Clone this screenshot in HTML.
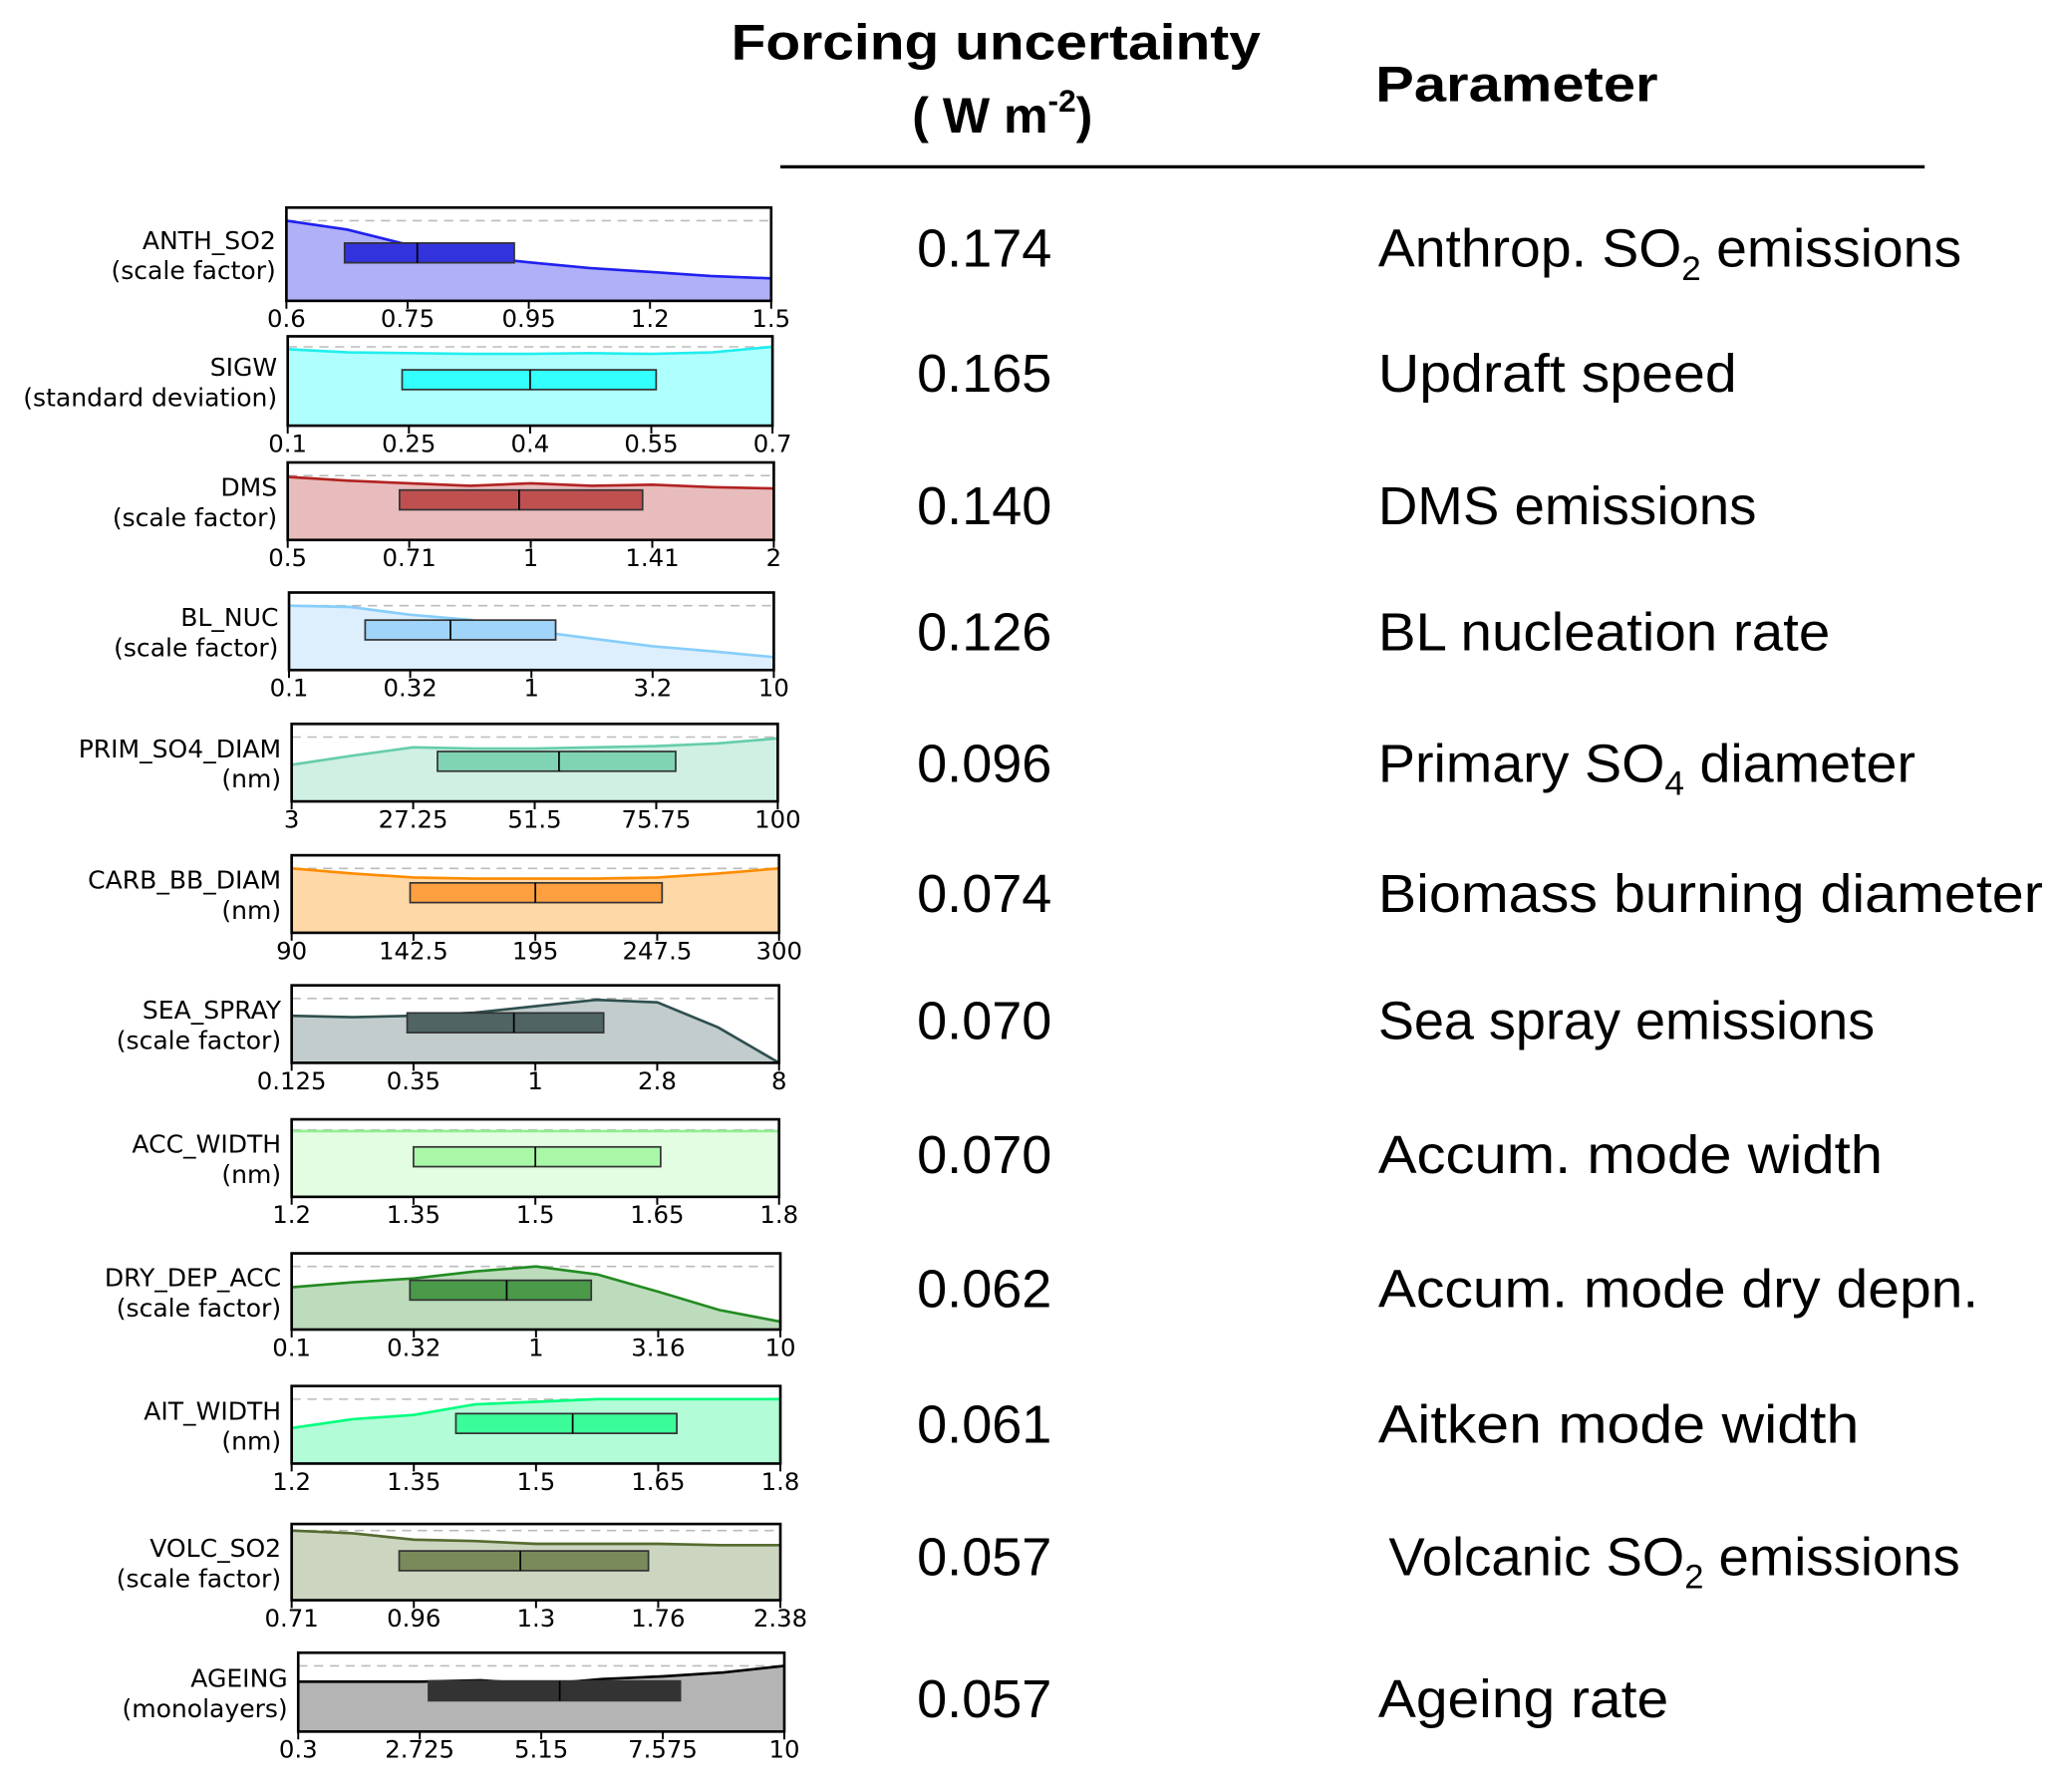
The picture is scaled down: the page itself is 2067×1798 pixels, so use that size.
<!DOCTYPE html>
<html><head><meta charset="utf-8"><style>
html,body{margin:0;padding:0;background:#fff;}
svg{display:block;}
.lab{font-family:"DejaVu Sans","Liberation Sans",sans-serif;font-size:19px;fill:#000;}
.tick{font-family:"DejaVu Sans","Liberation Sans",sans-serif;font-size:18.5px;fill:#000;}
.val{font-family:"Liberation Sans",sans-serif;font-size:41px;fill:#000;}
.hdr{font-family:"Liberation Sans",sans-serif;font-size:38px;font-weight:bold;fill:#000;}
</style></head><body>
<svg id="chart" width="2067" height="1798" viewBox="0 0 1568 1364" preserveAspectRatio="none" xmlns="http://www.w3.org/2000/svg">
<text class="hdr" x="758" y="45" text-anchor="middle" textLength="403" lengthAdjust="spacingAndGlyphs">Forcing uncertainty</text>
<text class="hdr" x="763" y="101" text-anchor="middle">( W m<tspan font-size="24" dy="-16">-2</tspan><tspan dy="16">)</tspan></text>
<text class="hdr" x="1047" y="77" textLength="215" lengthAdjust="spacingAndGlyphs">Parameter</text>
<line x1="594" y1="127" x2="1465" y2="127" stroke="#000" stroke-width="2.5"/>
<g id="panels"></g>
</svg>
<script>
const names=["ANTH_SO2","SIGW","DMS","BL_NUC","PRIM_SO4_DIAM","CARB_BB_DIAM","SEA_SPRAY","ACC_WIDTH","DRY_DEP_ACC","AIT_WIDTH","VOLC_SO2","AGEING"];
const units=["(scale factor)","(standard deviation)","(scale factor)","(scale factor)","(nm)","(nm)","(scale factor)","(nm)","(scale factor)","(nm)","(scale factor)","(monolayers)"];
const tickLabels=[["0.6","0.75","0.95","1.2","1.5"],["0.1","0.25","0.4","0.55","0.7"],["0.5","0.71","1","1.41","2"],["0.1","0.32","1","3.2","10"],["3","27.25","51.5","75.75","100"],["90","142.5","195","247.5","300"],["0.125","0.35","1","2.8","8"],["1.2","1.35","1.5","1.65","1.8"],["0.1","0.32","1","3.16","10"],["1.2","1.35","1.5","1.65","1.8"],["0.71","0.96","1.3","1.76","2.38"],["0.3","2.725","5.15","7.575","10"]];
const density=[[1.0,0.89,0.70,0.56,0.48,0.41,0.36,0.31,0.28],[0.97,0.93,0.92,0.91,0.91,0.92,0.91,0.93,1.0],[0.98,0.92,0.88,0.84,0.88,0.84,0.86,0.82,0.80],[1.0,0.98,0.86,0.78,0.61,0.49,0.37,0.29,0.2],[0.57,0.71,0.84,0.82,0.82,0.84,0.86,0.9,0.98],[1.0,0.92,0.86,0.84,0.84,0.84,0.86,0.92,1.0],[0.73,0.71,0.73,0.78,0.88,0.98,0.94,0.55,0],[0.98,0.98,0.98,0.98,0.98,0.98,0.98,0.98,0.98],[0.67,0.75,0.81,0.92,1.0,0.875,0.6,0.31,0.125],[0.55,0.69,0.755,0.92,0.96,1,1,1,1],[1,0.96,0.87,0.85,0.81,0.81,0.81,0.79,0.79],[0.76,0.76,0.76,0.78,0.72,0.8,0.84,0.9,1.0]];
const boxQ1=[0.12,0.236,0.23,0.157,0.30,0.243,0.237,0.25,0.242,0.336,0.22,0.268];
const boxMed=[0.27,0.50,0.476,0.333,0.55,0.5,0.456,0.5,0.44,0.575,0.468,0.538];
const boxQ3=[0.47,0.76,0.73,0.55,0.79,0.76,0.64,0.757,0.613,0.788,0.73,0.786];
const forcing=["0.174","0.165","0.140","0.126","0.096","0.074","0.070","0.070","0.062","0.061","0.057","0.057"];
const paramText=[["Anthrop. SO","2"," emissions"],["Updraft speed"],["DMS emissions"],["BL nucleation rate"],["Primary SO","4"," diameter"],["Biomass burning diameter"],["Sea spray emissions"],["Accum. mode width"],["Accum. mode dry depn."],["Aitken mode width"],["Volcanic SO","2"," emissions"],["Ageing rate"]];
// layout (not data)
const L=[[218,587,158,229,168],[219,588,256,324,264],[219,589,352,411,362],[220,589,451,510,461],[222,592,551,610,561],[222,593,651,710,661],[222,593,750,809,760],[222,593,852,911,860],[222,594,954,1012,964],[222,594,1055,1114,1065],[222,594,1160,1218,1165],[227,597,1258,1318,1268]];
const colLine=["#2020ee","#22eeee","#b22222","#87cefa","#66cdaa","#ff8c00","#2f4f4f","#90ee90","#228b22","#00ff7f","#556b2f","#000000"];
const colFill=["#b0b0f8","#b0ffff","#e8bcbc","#ddeefc","#cff0e3","#ffd8a8","#c2cccc","#e2fde2","#bcdcbc","#b2fcd8","#ccd5c0","#b4b4b4"];
const colBox=["#3333dd","#33ffff","#c05050","#a0d4f8","#80d4b4","#ffa040","#506464","#a8f8a8","#4a9a4a","#3cfc9a","#7a8a5a","#333333"];
const valY=[188,283,384,480,580,679,776,878,980,1083,1184,1292];
const paramW=[444,273,288,344,409,506,378,384,457,366,435,221];
const NS="http://www.w3.org/2000/svg";
const root=document.getElementById('panels');
function mk(tag,attrs,parent){const e=document.createElementNS(NS,tag);for(const k in attrs)e.setAttribute(k,attrs[k]);(parent||root).appendChild(e);return e;}
names.forEach((nm,i)=>{
  const [x0,x1,y0,y1,yd]=L[i];
  const sx=f=>x0+f*(x1-x0);
  const sy=d=>y1-d*(y1-yd);
  const g=mk('g',{});
  
  
  const d=density[i];
  let pts=d.map((v,k)=>sx(k/(d.length-1)).toFixed(1)+','+sy(v).toFixed(1));
  const area=mk('polygon',{points:sx(0)+','+y1+' '+pts.join(' ')+' '+sx(1)+','+y1,fill:colFill[i],stroke:'none'},g);
  
  
  const dash=mk('line',{x1:sx(0),x2:sx(1),y1:yd,y2:yd,stroke:'#bbb','stroke-width':1.2,'stroke-dasharray':'7,5'},g);
  
  
  const ln=mk('polyline',{points:pts.join(' '),fill:'none',stroke:colLine[i],'stroke-width':2},g);
  
  
  const cy=(y0+y1)/2-1, bh=15;
  const bx=mk('rect',{x:sx(boxQ1[i]),y:cy-bh/2,width:sx(boxQ3[i])-sx(boxQ1[i]),height:bh,fill:colBox[i],stroke:'#333','stroke-width':1.3},g);
  
  
  const md=mk('line',{x1:sx(boxMed[i]),x2:sx(boxMed[i]),y1:cy-bh/2,y2:cy+bh/2,stroke:'#000','stroke-width':1.3},g);
  
  
  const fr=mk('rect',{x:x0,y:y0,width:x1-x0,height:y1-y0,fill:'none',stroke:'#000','stroke-width':2},g);
  
  
  tickLabels[i].forEach((t,k)=>{
    const xx=sx(k/(tickLabels[i].length-1));
    mk('line',{x1:xx,x2:xx,y1:y1,y2:y1+6,stroke:'#000','stroke-width':1.5},g);
    const tt=mk('text',{class:'tick',x:xx,y:y1+20,'text-anchor':'middle'},g);
    tt.textContent=t;
    
    
  });
  const cyl=(y0+y1)/2;
  const t1=mk('text',{class:'lab',x:x0-8,y:cyl-4,'text-anchor':'end'},g);
  t1.textContent=nm;
  
  
  const t2=mk('text',{class:'lab',x:x0-8,y:cyl+19,'text-anchor':'end'},g);
  t2.textContent=units[i];
  
  
  const v=mk('text',{class:'val',x:698,y:valY[i]+15},root);
  v.textContent=forcing[i];
  
  
  const p=mk('text',{class:'val',x:i==10?1057:1049,y:valY[i]+15,textLength:paramW[i],lengthAdjust:'spacingAndGlyphs'},root);
  
  
  const parts=paramText[i];
  if(parts.length==1){p.textContent=parts[0];}
  else{
    const a=mk('tspan',{},p);a.textContent=parts[0];
    const b=mk('tspan',{dy:10,'font-size':26},p);b.textContent=parts[1];
    const c=mk('tspan',{dy:-10},p);c.textContent=parts[2];
  }
});
</script>
</body></html>
